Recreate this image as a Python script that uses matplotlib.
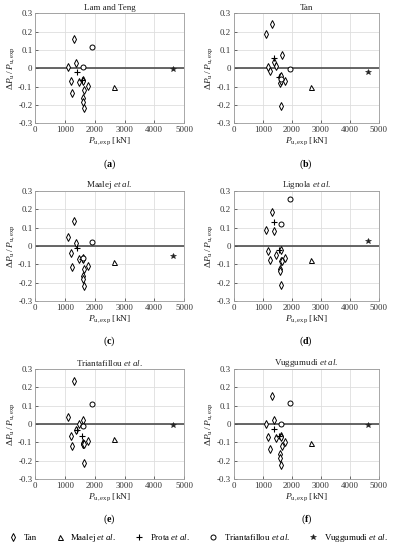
import numpy as np
import matplotlib
matplotlib.use('Agg')
import matplotlib.pyplot as plt
from matplotlib.lines import Line2D

plt.rcParams['font.family'] = ['Liberation Serif', 'DejaVu Serif']
plt.rcParams['mathtext.fontset'] = 'custom'
plt.rcParams['mathtext.rm'] = 'Liberation Serif'
plt.rcParams['mathtext.it'] = 'Liberation Serif:italic'
plt.rcParams['mathtext.bf'] = 'Liberation Serif:bold'
plt.rcParams['axes.unicode_minus'] = False

# experimental capacities [kN]
x_tan = [1110, 1190, 1250, 1300, 1380, 1460, 1590, 1600, 1610, 1620, 1640, 1650, 1760]
x_maalej = [2660]
x_prota = [1400, 1570]
x_tri = [1620, 1920]
x_vug = [4630]

titles = ['Lam and Teng', 'Tan', r'Maalej $\it{et\ al.}$', r'Lignola $\it{et\ al.}$',
          r'Triantafillou $\it{et\ al.}$', r'Vuggumudi $\it{et\ al.}$']
letters = ['a', 'b', 'c', 'd', 'e', 'f']

# relative error per model
y_tan = [
    [0.005, -0.071, -0.135, 0.157, 0.026, -0.073, -0.163, -0.185, -0.066, -0.07, -0.218, -0.12, -0.099],
    [0.186, 0.006, -0.013, 0.24, 0.035, 0.013, -0.05, -0.08, -0.07, -0.045, -0.205, 0.073, -0.069],
    [0.05, -0.038, -0.113, 0.136, 0.015, -0.074, -0.164, -0.18, -0.065, -0.07, -0.218, -0.128, -0.108],
    [0.088, -0.026, -0.075, 0.185, 0.082, -0.048, -0.126, -0.135, -0.08, -0.02, -0.212, -0.085, -0.068],
    [0.036, -0.067, -0.118, 0.236, -0.033, 0.002, -0.11, -0.105, -0.107, 0.022, -0.21, -0.11, -0.095],
    [0.0, -0.073, -0.136, 0.151, 0.022, -0.076, -0.165, -0.187, -0.064, -0.07, -0.222, -0.12, -0.1],
]
y_maalej = [[-0.102], [-0.104], [-0.086], [-0.079], [-0.082], [-0.104]]
y_prota = [[-0.022, -0.065], [0.056, -0.05], [-0.01, -0.07], [0.132, -0.025], [-0.03, -0.064], [-0.025, -0.065]]
y_tri = [[0.004, 0.117], [-0.06, -0.007], [-0.065, 0.023], [0.12, 0.256], [-0.009, 0.111], [-0.002, 0.115]]
y_vug = [[-0.005], [-0.022], [-0.056], [0.025], [-0.004], [-0.004]]

fig = plt.figure(figsize=(3.95, 5.5), dpi=100)

lefts = [0.089, 0.592]
widths = [0.377, 0.367]
bottoms = [0.776, 0.453, 0.129]
h = 0.2

tick_col = '#333333'
for i in range(6):
    r, c = i // 2, i % 2
    ax = fig.add_axes([lefts[c], bottoms[r], widths[c], h])
    ax.grid(True, color='#dedede', lw=0.6)
    ax.set_axisbelow(True)
    ax.axhline(0, color='#4d4d4d', lw=1.2, zorder=1)
    ax.plot(x_tan, y_tan[i], 'd', ms=3.8, mfc='white', mec='black', mew=0.7, zorder=3)
    ax.plot(x_maalej, y_maalej[i], '^', ms=3.6, mfc='white', mec='black', mew=0.7, zorder=3)
    ax.plot(x_prota, y_prota[i], '+', ms=4.5, mec='black', mew=0.8, zorder=3)
    ax.plot(x_tri, y_tri[i], 'o', ms=3.6, mfc='white', mec='black', mew=0.7, zorder=3)
    ax.plot(x_vug, y_vug[i], '*', ms=3.8, mfc='#222222', mec='#222222', mew=0.4, zorder=3)
    ax.set_xlim(0, 5000)
    ax.set_ylim(-0.3, 0.3)
    ax.set_xticks(np.arange(0, 5001, 1000))
    ax.set_yticks([-0.3, -0.2, -0.1, 0, 0.1, 0.2, 0.3])
    ax.set_yticklabels(['-0.3', '-0.2', '-0.1', '0', '0.1', '0.2', '0.3'])
    ax.tick_params(labelsize=6.4, colors=tick_col, length=2, width=0.5, direction='in', pad=2)
    for s in ax.spines.values():
        s.set_color('#9a9a9a')
        s.set_linewidth(0.6)
    ax.set_title(titles[i], fontsize=6.5, pad=2, color='#222222')
    ax.set_ylabel(r'$\Delta P_{\rm u}\,/\,P_{\rm u,exp}$', fontsize=6.8, labelpad=1, color='#222222')
    ax.set_xlabel(r'$P_{\rm u,exp}$ [kN]', fontsize=6.8, labelpad=1, color='#222222')
    ax.text(0.5, -0.37, r'($\mathbf{' + letters[i] + '}$)', transform=ax.transAxes,
            ha='center', va='center', fontsize=7.2)

handles = [
    Line2D([], [], ls='none', marker='d', ms=3.8, mfc='white', mec='black', mew=0.7),
    Line2D([], [], ls='none', marker='^', ms=3.6, mfc='white', mec='black', mew=0.7),
    Line2D([], [], ls='none', marker='+', ms=4.5, mec='black', mew=0.8),
    Line2D([], [], ls='none', marker='o', ms=3.6, mfc='white', mec='black', mew=0.7),
    Line2D([], [], ls='none', marker='*', ms=3.8, mfc='#222222', mec='#222222', mew=0.4),
]
labels = ['Tan', r'Maalej $\it{et\ al.}$', r'Prota $\it{et\ al.}$',
          r'Triantafillou $\it{et\ al.}$', r'Vuggumudi $\it{et\ al.}$']
fig.legend(handles, labels, loc='center', bbox_to_anchor=(0.5, 0.022), ncol=5,
           frameon=False, fontsize=6.4, handletextpad=0.6, columnspacing=2.0,
           handlelength=1.2)

fig.savefig('out.png', dpi=100)
